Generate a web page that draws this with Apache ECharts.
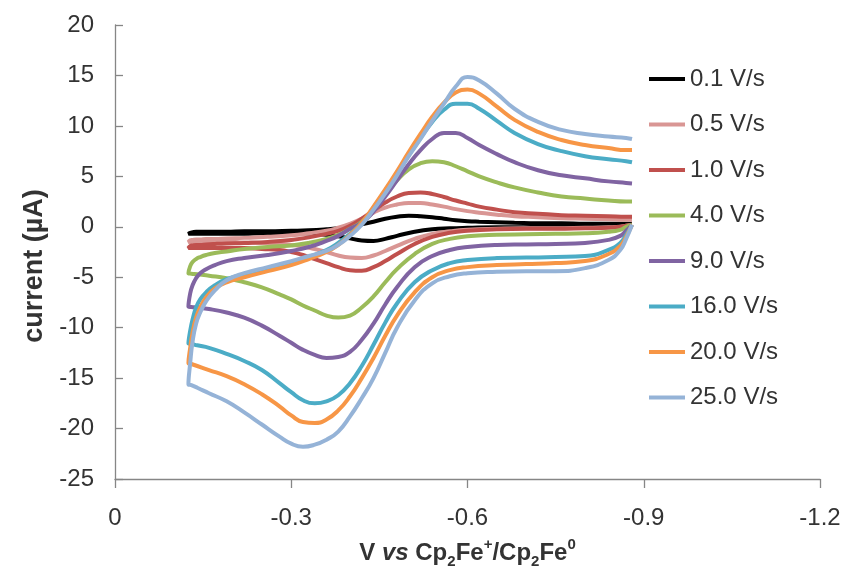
<!DOCTYPE html>
<html>
<head>
<meta charset="utf-8">
<script src="https://cdn.jsdelivr.net/npm/echarts@6/dist/echarts.min.js"></script>
<style>
  html, body { margin: 0; padding: 0; background: #fff; }
  #main { width: 847px; height: 569px; }
</style>
</head>
<body>
<div id="main"></div>
<script>
// potential (V): scan back from -0.88 to -0.125, then forward again to -0.88
const potential = [
  -0.88, -0.87, -0.86, -0.84, -0.80, -0.75, -0.70, -0.65, -0.60, -0.57,
  -0.54, -0.51, -0.48, -0.46, -0.44, -0.42, -0.40, -0.38, -0.36, -0.34,
  -0.32, -0.30, -0.28, -0.25, -0.22, -0.19, -0.16, -0.14, -0.13, -0.125,
  -0.128, -0.132, -0.138, -0.145, -0.155, -0.17, -0.19, -0.22, -0.26, -0.30,
  -0.33, -0.36, -0.38, -0.40, -0.42, -0.44, -0.46, -0.48, -0.50, -0.52,
  -0.54, -0.56, -0.58, -0.60, -0.62, -0.65, -0.68, -0.72, -0.76, -0.80,
  -0.84, -0.87, -0.88
];

// current (µA) for each scan rate, same order as potential
const cur01 = [
  0.2, 0.1, 0.05, 0.0, 0.0, 0.0, -0.05, -0.05, -0.1, -0.15,
  -0.25, -0.5, -0.9, -1.2, -1.4, -1.35, -1.15, -0.95, -0.8, -0.7,
  -0.65, -0.65, -0.65, -0.65, -0.7, -0.7, -0.7, -0.7, -0.7, -0.7,
  -0.6, -0.55, -0.5, -0.5, -0.5, -0.5, -0.5, -0.45, -0.45, -0.4,
  -0.35, -0.25, -0.15, 0.0, 0.25, 0.5, 0.8, 1.0, 1.1, 1.05,
  0.95, 0.8, 0.65, 0.55, 0.5, 0.45, 0.4, 0.35, 0.35, 0.3,
  0.3, 0.3, 0.3
];
const cur05 = [
  0.2, 0.1, 0.0, -0.05, -0.1, -0.15, -0.15, -0.2, -0.3, -0.45,
  -0.7, -1.2, -1.9, -2.4, -2.85, -3.1, -3.05, -2.85, -2.5, -2.2,
  -1.95, -1.8, -1.7, -1.6, -1.55, -1.5, -1.5, -1.5, -1.5, -1.5,
  -1.35, -1.3, -1.25, -1.25, -1.2, -1.2, -1.15, -1.1, -1.0, -0.85,
  -0.65, -0.4, -0.1, 0.3, 0.8, 1.4, 1.9, 2.2, 2.35, 2.35,
  2.2, 2.0, 1.75, 1.55, 1.4, 1.2, 1.05, 0.95, 0.85, 0.8,
  0.75, 0.7, 0.7
];
const cur10 = [
  0.2, 0.1, 0.0, -0.1, -0.15, -0.2, -0.2, -0.25, -0.4, -0.6,
  -1.0, -1.7, -2.7, -3.4, -4.0, -4.35, -4.3, -4.0, -3.6, -3.2,
  -2.8, -2.5, -2.3, -2.2, -2.1, -2.1, -2.1, -2.1, -2.1, -2.1,
  -1.9, -1.85, -1.8, -1.8, -1.75, -1.7, -1.65, -1.6, -1.5, -1.3,
  -1.05, -0.7, -0.4, 0.1, 0.8, 1.6, 2.4, 3.0, 3.35, 3.4,
  3.25, 2.95, 2.6, 2.3, 2.0, 1.7, 1.45, 1.3, 1.15, 1.1,
  1.05, 1.0, 1.0
];
const cur40 = [
  0.2, 0.0, -0.3, -0.5, -0.65, -0.7, -0.75, -0.8, -0.95, -1.2,
  -1.7, -2.7, -4.2, -5.5, -6.9, -8.0, -8.8, -9.0, -8.8, -8.3,
  -7.8, -7.2, -6.7, -6.0, -5.5, -5.1, -4.85, -4.7, -4.65, -4.6,
  -3.9, -3.5, -3.2, -3.0, -2.8, -2.6, -2.45, -2.2, -2.0, -1.85,
  -1.6, -1.2, -0.8, -0.2, 0.5, 1.6, 3.2, 4.6, 5.7, 6.3,
  6.5, 6.4, 6.0, 5.5, 5.0, 4.4, 3.9, 3.4, 3.0, 2.8,
  2.6, 2.5, 2.5
];
const cur90 = [
  0.2, -0.4, -0.9, -1.3, -1.6, -1.7, -1.75, -1.8, -2.0, -2.3,
  -2.9, -4.0, -6.0, -7.7, -9.6, -11.2, -12.4, -12.9, -13.0, -12.7,
  -12.2, -11.5, -10.8, -9.8, -9.0, -8.5, -8.15, -8.0, -7.95, -7.9,
  -6.6, -5.8, -5.1, -4.6, -4.2, -3.8, -3.4, -3.1, -2.8, -2.4,
  -2.0, -1.4, -0.9, -0.2, 0.4, 1.5, 3.0, 4.6, 6.2, 7.6,
  8.7, 9.3, 9.3, 8.8, 8.1, 7.2, 6.4, 5.6, 5.1, 4.8,
  4.5, 4.35, 4.3
];
const cur160 = [
  0.2, -0.8, -1.6, -2.3, -2.9, -3.0, -3.05, -3.1, -3.3, -3.6,
  -4.3, -5.5, -7.6, -9.5, -11.7, -13.8, -15.5, -16.7, -17.3, -17.5,
  -17.2, -16.4, -15.5, -14.2, -13.3, -12.6, -12.0, -11.75, -11.6, -11.55,
  -10.3, -9.2, -8.0, -7.2, -6.5, -5.8, -5.2, -4.7, -4.2, -3.6,
  -3.0, -2.3, -1.6, -0.7, 0.4, 1.9, 3.6, 5.3, 7.1, 8.8,
  10.4, 11.6, 12.2, 12.2, 11.7, 10.5, 9.3, 8.2, 7.5, 7.0,
  6.7, 6.5, 6.4
];
const cur200 = [
  0.2, -1.0, -1.9, -2.7, -3.4, -3.6, -3.7, -3.8, -4.0, -4.3,
  -5.0, -6.5, -8.8, -10.8, -13.0, -15.0, -16.8, -18.2, -19.1, -19.45,
  -19.35, -18.7, -17.8, -16.6, -15.6, -14.8, -14.2, -13.8, -13.6, -13.5,
  -12.0, -10.5, -9.0, -8.0, -7.0, -6.1, -5.5, -5.0, -4.4, -3.8,
  -3.2, -2.5, -1.8, -0.8, 0.4, 2.0, 3.7, 5.5, 7.4, 9.2,
  10.9, 12.3, 13.3, 13.6, 13.2, 11.9, 10.6, 9.4, 8.6, 8.1,
  7.8, 7.6, 7.6
];
const cur250 = [
  0.2, -1.2, -2.3, -3.3, -4.1, -4.4, -4.4, -4.45, -4.6, -4.9,
  -5.6, -7.3, -10.0, -12.5, -15.0, -17.0, -18.8, -20.3, -21.1, -21.6,
  -21.8, -21.5, -20.8, -19.6, -18.4, -17.3, -16.5, -15.95, -15.7, -15.6,
  -13.5, -11.4, -9.6, -8.5, -7.4, -6.3, -5.3, -4.6, -4.0, -3.4,
  -2.9, -2.4, -1.8, -0.9, 0.2, 1.7, 3.3, 5.1, 7.0, 8.7,
  10.5, 12.2, 13.9, 14.85, 14.5, 13.2, 11.7, 10.4, 9.6, 9.2,
  8.95, 8.8, 8.7
];

const seriesNames = ['0.1 V/s', '0.5 V/s', '1.0 V/s', '4.0 V/s', '9.0 V/s', '16.0 V/s', '20.0 V/s', '25.0 V/s'];
const seriesColors = ['#000000', '#D99694', '#C0504D', '#9BBB59', '#8064A2', '#4BACC6', '#F79646', '#95B3D7'];
const seriesCurrents = [cur01, cur05, cur10, cur40, cur90, cur160, cur200, cur250];

const FONT = 'Liberation Sans';
const TEXT = '#333333';
const AXIS = '#868686';

var myChart = echarts.init(document.getElementById('main'));

const series = seriesNames.map((name, k) => ({
  name: name,
  type: 'line',
  symbol: 'none',
  smooth: 0.5,
  lineStyle: { width: 4, color: seriesColors[k] },
  itemStyle: { color: seriesColors[k] },
  data: potential.map((v, i) => [v, seriesCurrents[k][i]])
}));

const option = {
  animation: false,
  backgroundColor: '#ffffff',
  grid: { left: 115, right: 27, top: 25, bottom: 90, containLabel: false, outerBoundsMode: 'none' },
  legend: {
    orient: 'vertical',
    left: 649,
    top: 67,
    padding: 0,
    icon: 'rect',
    itemWidth: 36,
    itemHeight: 4,
    itemGap: 21.5,
    textStyle: { fontFamily: FONT, fontSize: 24, lineHeight: 24, color: TEXT },
    data: seriesNames
  },
  xAxis: {
    type: 'value',
    min: -1.2,
    max: 0,
    interval: 0.3,
    inverse: true,
    name: '{b|V }{i|vs}{b| Cp}{sub|2}{b|Fe}{sup|+}{b|/Cp}{sub|2}{b|Fe}{sup|0}',
    nameLocation: 'middle',
    nameGap: 58,
    nameTextStyle: {
      fontFamily: FONT, fontSize: 24, fontWeight: 'bold', color: TEXT,
      rich: {
        b: { fontFamily: FONT, fontSize: 24, fontWeight: 'bold', color: TEXT, lineHeight: 32 },
        i: { fontFamily: FONT, fontSize: 24, fontWeight: 'bold', fontStyle: 'italic', color: TEXT, lineHeight: 32 },
        sub: { fontFamily: FONT, fontSize: 15, fontWeight: 'bold', color: TEXT, lineHeight: 15, verticalAlign: 'bottom' },
        sup: { fontFamily: FONT, fontSize: 15, fontWeight: 'bold', color: TEXT, lineHeight: 20, verticalAlign: 'top' }
      }
    },
    axisLine: { show: true, onZero: false, lineStyle: { color: AXIS, width: 1.3 } },
    axisTick: { show: true, inside: false, length: 9, lineStyle: { color: AXIS, width: 1.3 } },
    axisLabel: {
      margin: 27,
      fontFamily: FONT, fontSize: 24, color: TEXT,
      formatter: v => (Math.abs(v) < 1e-9 ? '0' : v.toFixed(1))
    },
    splitLine: { show: false }
  },
  yAxis: {
    type: 'value',
    min: -25,
    max: 20,
    interval: 5,
    name: 'current (µA)',
    nameLocation: 'middle',
    nameGap: 64,
    nameTextStyle: { fontFamily: FONT, fontSize: 27, fontWeight: 'bold', color: TEXT, padding: [0, 28, 0, 0] },
    axisLine: { show: true, onZero: false, lineStyle: { color: AXIS, width: 1.3 } },
    axisTick: { show: true, inside: true, length: 8, lineStyle: { color: AXIS, width: 1.3 } },
    axisLabel: { margin: 21, fontFamily: FONT, fontSize: 24, color: TEXT },
    splitLine: { show: false }
  },
  series: series
};

myChart.setOption(option);
</script>
</body>
</html>
